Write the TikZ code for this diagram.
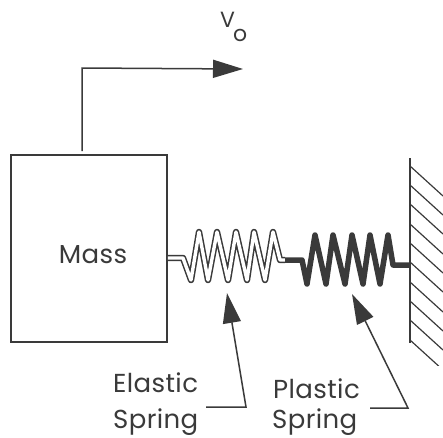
\documentclass[tikz,border=0pt]{standalone}
\usepackage{fontspec}
\setmainfont{Poppins}[LetterSpace=1.5]
\usetikzlibrary{arrows.meta,calc}
\definecolor{INK}{HTML}{3A3A3A}
\begin{document}
\begin{tikzpicture}[x=1pt,y=-1pt]
\tikzset{ln/.style={line width=1.5pt,INK},
 arr/.style={-{Triangle[length=30pt,width=18pt]},line width=1.5pt,INK},
 lab/.style={font=\fontsize{26}{26}\selectfont,text=INK,inner sep=0pt},
 elastic/.style={line width=1.5pt,INK,double=white,double distance=3.4pt,line join=round},
 plastic/.style={line width=5.5pt,INK,line join=round}}
\useasboundingbox (0,0) rectangle (443,437);
% mass and wall
\node[ln,draw,minimum width=156pt,minimum height=187pt,inner sep=0pt] (mass) at (89,248.5) {};
\node[lab,anchor=base] (masslabel) at (93,263) {Mass};
\coordinate (walltop) at (410,158);
\coordinate (wallbot) at (410,343);
\draw[ln] (walltop) -- (wallbot);
\begin{scope}
\clip (410,150) rectangle (443,365);
\foreach \yy in {166,185,204,224,243,262,282,301,320,340}
  \draw[ln,line width=1.2pt] (410,\yy) -- (443,\yy+30);
\end{scope}
% velocity arrow
\coordinate (vstart) at (82,151);
\coordinate (vcorner) at (82,68);
\coordinate (vend) at (243,69);
\draw[arr] (vstart) -- (vcorner) -- (vend);
\node[lab,anchor=base west,font=\fontsize{22}{22}\selectfont] (vlabel) at (220,27) {V};
\node[lab,anchor=base west,font=\fontsize{22}{22}\selectfont] (vsub) at (233,41) {o};
% springs
\coordinate (eleft) at (mass.east|-0,258);
\coordinate (pright) at (410,265);
\draw[elastic] (eleft) -- (183,258) -- (191,280) -- (199,232) -- (208,280) -- (217,232)
  -- (228,280) -- (236,232) -- (247,280) -- (254,232) -- (265,280) -- (273,232)
  -- (280,260) -- (285,260);
\draw[plastic] (285,260) -- (302,260) -- (307,284) -- (315,235) -- (326,284) -- (333,235)
  -- (345,284) -- (352,235) -- (363,284) -- (370,235) -- (380,284) -- (388,235)
  -- (393,265) -- (pright);
% labels
\node[lab,anchor=base west] (elastictxt) at (113,392) {Elastic};
\node[lab,anchor=base west] (springa) at (113,428) {Spring};
\node[lab,anchor=base west] (plastictxt) at (273,398) {Plastic};
\node[lab,anchor=base west] (springb) at (272,428) {Spring};
\coordinate (ea) at (206,407);
\coordinate (eb) at (246,407);
\coordinate (etip) at (227,293);
\coordinate (pa) at (370,408);
\coordinate (pb) at (408,408);
\coordinate (ptip) at (352,294);
\draw[arr] (ea) -- (eb) -- (etip);
\draw[arr] (pa) -- (pb) -- (ptip);
\end{tikzpicture}
\end{document}
